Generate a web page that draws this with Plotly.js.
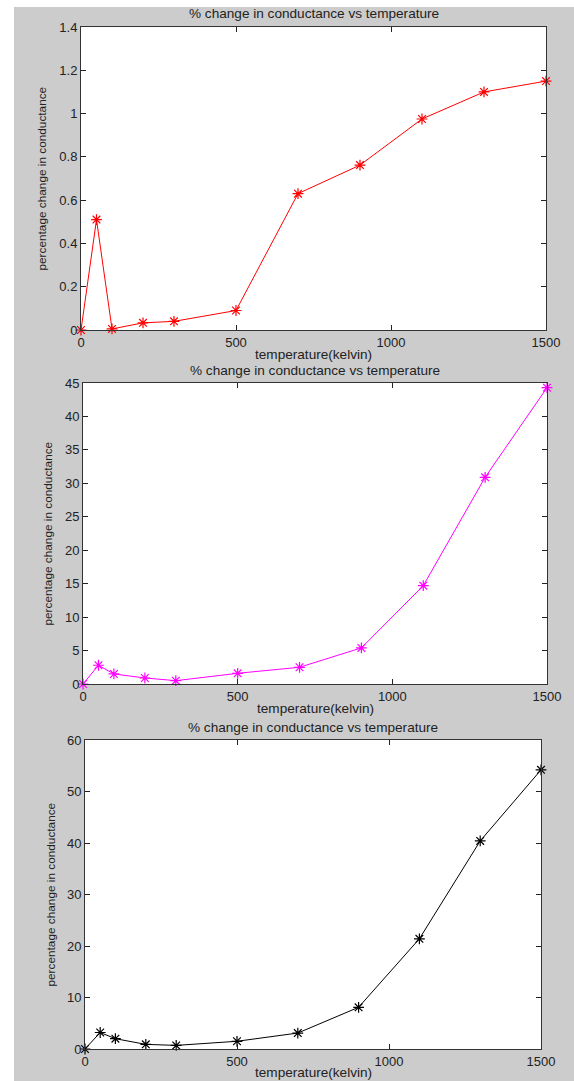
<!DOCTYPE html>
<html>
<head>
<meta charset="utf-8">
<script src="https://cdn.plot.ly/plotly-3.0.1.min.js"></script>
<style>html,body{margin:0;padding:0;background:#fff;}#chart{width:574px;height:1081px;}</style>
</head>
<body>
<div id="chart"></div>
<script>
const temperature = [0, 50, 100, 200, 300, 500, 700, 900, 1100, 1300, 1500];
const seriesRed = [0, 0.51, 0.005, 0.033, 0.04, 0.09, 0.63, 0.762, 0.975, 1.10, 1.15];
const seriesMagenta = [0, 2.8, 1.5, 0.9, 0.5, 1.6, 2.5, 5.4, 14.7, 30.9, 44.3];
const seriesBlack = [0, 3.2, 2.0, 0.9, 0.7, 1.5, 3.1, 8.1, 21.4, 40.4, 54.2];
const xTicks = [0, 500, 1000, 1500];
const yTicks1 = [0, 0.2, 0.4, 0.6, 0.8, 1, 1.2, 1.4];
const yTicks2 = [0, 5, 10, 15, 20, 25, 30, 35, 40, 45];
const yTicks3 = [0, 10, 20, 30, 40, 50, 60];
const titleText = '% change in conductance vs temperature';
const xLabel = 'temperature(kelvin)';
const yLabel = 'percentage change in conductance';

const W = 574, H = 1081;
const px = v => v / W;
const py = v => 1 - v / H;

const font = {family: '"Liberation Sans", Arial, sans-serif', size: 13, color: '#222'};

function trace(y, color, ax) {
  return {
    x: temperature, y: y, type: 'scatter', mode: 'lines+markers',
    xaxis: 'x' + ax, yaxis: 'y' + ax,
    line: {color: color, width: 1},
    marker: {symbol: 'asterisk-open', size: 9, color: color, line: {color: color, width: 1.2}},
    cliponaxis: false, hoverinfo: 'skip'
  };
}

function xaxis(d, anchor) {
  return {domain: d, anchor: anchor, range: [0, 1500], tickvals: xTicks, ticktext: xTicks.map(String),
    ticks: 'inside', ticklen: 5, tickcolor: '#222', mirror: 'ticks', showline: true, linecolor: '#333', linewidth: 1,
    showgrid: false, zeroline: false, tickfont: font, fixedrange: true};
}
function yaxis(d, anchor, range, tv) {
  return {domain: d, anchor: anchor, range: range, tickvals: tv, ticktext: tv.map(String),
    ticks: 'inside', ticklen: 5, tickcolor: '#222', mirror: 'ticks', showline: true, linecolor: '#333', linewidth: 1,
    showgrid: false, zeroline: false, tickfont: font, fixedrange: true};
}

const panels = [
  {x: [81, 546], y: [27, 330], title: 14, xl: 354, yl: 42},
  {x: [83, 547], y: [383, 684], title: 370, xl: 708, yl: 47},
  {x: [85, 541], y: [740, 1049], title: 727, xl: 1072, yl: 50}
];

const annotations = [];
panels.forEach(p => {
  const cx = px((p.x[0] + p.x[1]) / 2);
  annotations.push({text: titleText, xref: 'paper', yref: 'paper', x: cx, y: py(p.title), showarrow: false,
    xanchor: 'center', yanchor: 'middle', font: Object.assign({}, font, {size: 13.6})});
  annotations.push({text: xLabel, xref: 'paper', yref: 'paper', x: cx, y: py(p.xl), showarrow: false,
    xanchor: 'center', yanchor: 'middle', font: Object.assign({}, font, {size: 13.6})});
  annotations.push({text: yLabel, xref: 'paper', yref: 'paper', x: px(p.yl), y: py((p.y[0] + p.y[1]) / 2), showarrow: false,
    textangle: -90, xanchor: 'center', yanchor: 'middle', font: Object.assign({}, font, {size: 11.8})});
});

const layout = {
  width: W, height: H, margin: {l: 0, r: 0, t: 0, b: 0},
  paper_bgcolor: '#cccccc', plot_bgcolor: '#ffffff', showlegend: false,
  xaxis: xaxis([px(81), px(546)], 'y'),
  yaxis: yaxis([py(330), py(27)], 'x', [0, 1.4], yTicks1),
  xaxis2: xaxis([px(83), px(547)], 'y2'),
  yaxis2: yaxis([py(684), py(383)], 'x2', [0, 45], yTicks2),
  xaxis3: xaxis([px(85), px(541)], 'y3'),
  yaxis3: yaxis([py(1049), py(740)], 'x3', [0, 60], yTicks3),
  annotations: annotations,
  shapes: [
    {type: 'rect', xref: 'paper', yref: 'paper', x0: 0, x1: px(14), y0: 0, y1: 1, fillcolor: '#ffffff', line: {width: 0}, layer: 'below'},
    {type: 'rect', xref: 'paper', yref: 'paper', x0: 0, x1: 1, y0: py(7), y1: 1, fillcolor: '#ffffff', line: {width: 0}, layer: 'below'}
  ]
};

Plotly.newPlot('chart', [
  trace(seriesRed, '#ff0000', ''),
  trace(seriesMagenta, '#ff00ff', '2'),
  trace(seriesBlack, '#000000', '3')
], layout, {staticPlot: true});
</script>
</body>
</html>
